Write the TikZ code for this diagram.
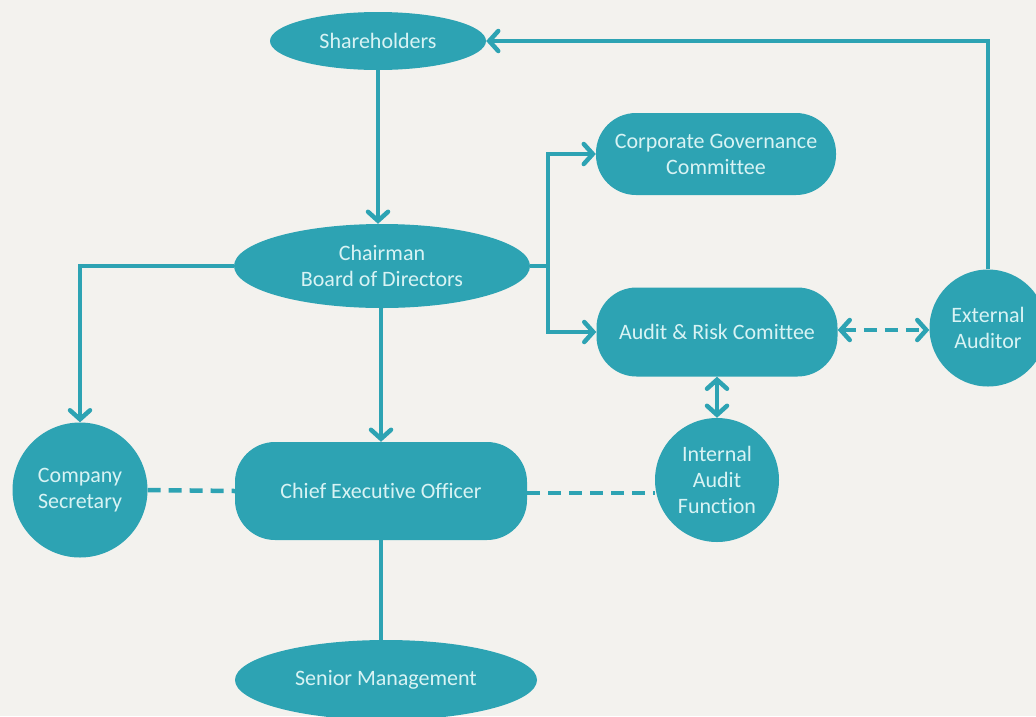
\documentclass[tikz,border=0pt]{standalone}
\usepackage{fontspec}
\setmainfont[Ligatures=CommonOff]{Carlito}
\usetikzlibrary{arrows.meta,shapes.geometric}
\definecolor{bg}{HTML}{F3F2EE}
\definecolor{teal}{HTML}{2DA3B3}
\definecolor{txt}{HTML}{D8F3F4}
\tikzset{
  box/.style={fill=teal,text=txt,font=\fontsize{22}{26}\selectfont,align=center,inner sep=0pt},
  oval/.style={box,ellipse},
  pill/.style={box,rectangle,rounded corners=40pt},
  disc/.style={box,circle},
  link/.style={draw=teal,line width=4.5pt},
  arr/.style={link,-{Straight Barb[length=9pt,width=20pt,line cap=round]}},
  darr/.style={link,{Straight Barb[length=9pt,width=20pt,line cap=round]}-{Straight Barb[length=9pt,width=20pt,line cap=round]}},
  dashline/.style={dash pattern=on 13pt off 8pt}
}
\begin{document}
\begin{tikzpicture}[x=1pt,y=-1pt]
\fill[bg] (0,0) rectangle (1036,716);
\useasboundingbox (0,0) rectangle (1036,716);
\node[oval,minimum width=216pt,minimum height=58pt] (sh) at (378,41) {Shareholders};
\node[oval,minimum width=296pt,minimum height=84pt] (ch) at (382,266) {Chairman\\Board of Directors};
\node[pill,minimum width=240pt,minimum height=82pt] (cg) at (716,154) {Corporate Governance\\Committee};
\node[pill,minimum width=241pt,minimum height=89pt] (ar) at (717,332) {Audit \& Risk Comittee};
\node[disc,minimum size=117pt] (ea) at (988,328) {External\\Auditor};
\node[disc,minimum size=135pt] (cs) at (80,490) {Company\\Secretary};
\node[pill,minimum width=292pt,minimum height=98pt] (ceo) at (381,491) {Chief Executive Officer};
\node[disc,minimum size=124pt] (ia) at (717,480) {Internal\\Audit\\Function};
\node[oval,minimum width=302pt,minimum height=80pt] (sm) at (386,680) {Senior Management};
\coordinate (j) at (548,266);
\draw[arr] (sh.south) -- (sh.south |- ch.north);
\draw[arr] (ea.north) |- (sh.east);
\draw[arr] (ch.west) -| (cs.north);
\draw[link] (ch.east) -- (j);
\draw[arr] (j) |- (cg.west);
\draw[arr] (j) |- (ar.west);
\draw[arr] (ceo.north |- ch.south) -- (ceo.north);
\draw[darr,dashline] (ar.east |- 0,330) -- (ea.west |- 0,330);
\draw[darr] (ar.south) -- (ar.south |- ia.north);
\draw[link,dashline] (cs.east) -- (ceo.west);
\draw[link,dashline] (ceo.east |- 0,493) -- (ia.west |- 0,493);
\draw[link] (ceo.south) -- (ceo.south |- sm.north);
\end{tikzpicture}
\end{document}
